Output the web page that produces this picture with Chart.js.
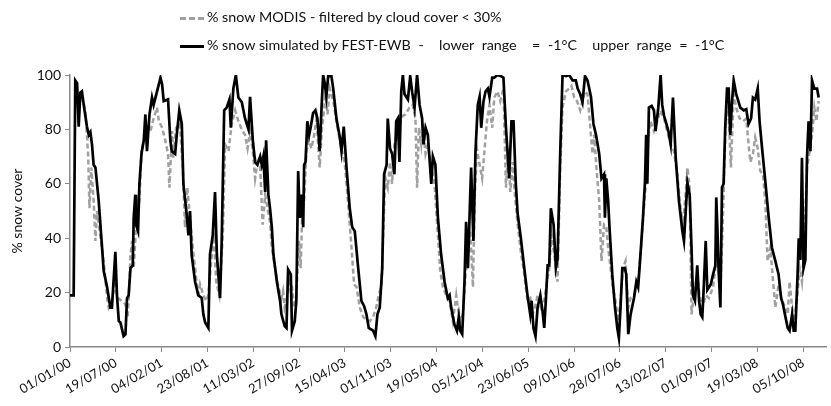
<!DOCTYPE html>
<html>
<head>
<meta charset="utf-8">
<script src="https://cdn.jsdelivr.net/npm/chart.js@4.4.1/dist/chart.umd.min.js"></script>
<style>
  body { margin: 0; background: #fff; }
  #wrap { position: relative; width: 831px; height: 406px; }
  #legend { position: absolute; left: 180px; top: 5px; font-family: Lato, sans-serif; font-size: 14.3px; color: #111; }
  .row { position: absolute; left: 0; white-space: pre; height: 20px; line-height: 20px; }
  .row .smp { display: inline-block; width: 24px; vertical-align: middle; margin-right: 3px; }
  .dash { border-top: 3px dashed #a0a0a0; }
  .solid { border-top: 3px solid #000; }
  .wide { word-spacing: 4px; }
</style>
</head>
<body>
<div id="wrap">
  <canvas id="snowChart" width="831" height="406"></canvas>
  <div id="legend">
    <div class="row" style="top:2px"><span class="smp dash"></span>% snow MODIS - filtered by cloud cover &lt; 30%</div>
    <div class="row" style="top:30px"><span class="smp solid"></span>% snow simulated by FEST-EWB<span class="wide"> -  lower range  = -1°C  upper range = -1°C</span></div>
  </div>
</div>
<script>
// DATI (giorni dal 01/01/00)
const tickLabels = ["01/01/00", "19/07/00", "04/02/01", "23/08/01", "11/03/02", "27/09/02", "15/04/03", "01/11/03", "19/05/04", "05/12/04", "23/06/05", "09/01/06", "28/07/06", "13/02/07", "01/09/07", "19/03/08", "05/10/08"];

const simDays = [0, 16, 23, 31, 38, 45, 52, 60, 74, 82, 89, 96, 103, 111, 125, 140, 147, 162, 176, 183, 198, 205, 213, 220, 234, 242, 249, 256, 264, 274, 278, 285, 288, 297, 303, 312, 322, 329, 336, 347, 358, 365, 380, 395, 402, 409, 428, 438,
  444, 459, 466, 477, 488, 495, 509, 517, 524, 531, 546, 560, 575, 582, 590, 604, 611, 623, 633, 641, 655, 662, 673, 684, 696, 702, 713, 724, 735, 750, 764, 779, 786, 798, 808, 818, 830, 837, 844, 852, 856, 866, 873, 881, 888, 903, 917,
  923, 937, 945, 952, 964, 969, 981, 988, 996, 1003, 1010, 1018, 1022, 1028, 1036, 1044, 1051, 1061, 1071, 1080, 1090, 1098, 1105, 1112, 1119, 1127, 1141, 1149, 1163, 1178, 1185, 1195, 1207, 1221, 1232, 1243, 1258, 1272, 1284, 1294, 1304, 1323, 1333, 1342, 1352, 1363, 1371, 1382,
  1387, 1397, 1406, 1416, 1424, 1431, 1438, 1446, 1453, 1460, 1475, 1485, 1494, 1504, 1515, 1526, 1537, 1543, 1552, 1562, 1569, 1577, 1584, 1595, 1606, 1620, 1635, 1649, 1657, 1664, 1678, 1689, 1697, 1703, 1712, 1722, 1729, 1737, 1747, 1751, 1761, 1770, 1780, 1788, 1795, 1805, 1814, 1824, 1831, 1843,
  1852, 1866, 1881, 1892, 1903, 1917, 1927, 1936, 1946, 1954, 1968, 1983, 1997, 2009, 2015, 2023, 2032, 2041, 2053, 2063, 2070, 2077, 2085, 2092, 2099, 2111, 2121, 2128, 2140, 2150, 2165, 2179, 2194, 2208, 2216, 2227, 2237, 2248, 2259, 2274, 2285, 2296, 2310, 2320,
  2331, 2335, 2341, 2349, 2355, 2367, 2379, 2389, 2396, 2403, 2411, 2422, 2428, 2437, 2447, 2462, 2472, 2480, 2491, 2501, 2510, 2515, 2520, 2527, 2539, 2549, 2556, 2568, 2578, 2585, 2593, 2600, 2612, 2622, 2632, 2644, 2658, 2673, 2680, 2687, 2695, 2705, 2713, 2719, 2728, 2738, 2746, 2753, 2760, 2767, 2775, 2782, 2797,
  2807, 2817, 2821, 2827, 2831, 2839, 2846, 2853, 2860, 2868, 2875, 2882, 2890, 2897, 2908, 2926, 2941, 2952, 2962, 2973, 2981, 2991, 3002, 3010, 3021, 3035, 3050, 3064, 3079, 3093, 3104, 3112, 3123, 3133, 3141, 3152, 3159, 3166, 3176, 3181, 3188, 3195, 3202, 3210, 3217, 3224, 3232, 3239, 3249, 3261, 3268];
const simValues = [19, 19, 98, 97, 81, 93.5, 94, 89, 81, 78, 79, 74.5, 67, 66, 54, 36.5, 28, 22, 14.5, 14.5, 35, 19, 9.5, 9, 4, 4.6, 18, 19, 29, 30, 47.5, 56, 45, 42.6, 60, 71, 76, 85.5, 72, 85.5, 91.7, 89, 94, 99, 96.6, 90.4, 91, 76,
  72, 71, 78, 87, 82, 60, 49, 41, 50, 34, 24, 19, 18, 12, 9, 7, 34, 41, 57, 34, 18, 38, 87, 88, 91, 80.6, 95, 100, 91.7, 90, 84, 80, 92, 76, 68, 67, 70, 67, 70, 57, 76, 56, 51, 44, 34, 24, 17,
  12, 7.7, 7, 28.5, 26.7, 6, 9.5, 17, 64.7, 47.5, 56, 44, 67, 68, 83, 78, 81, 86, 87, 84, 72, 88, 100, 97, 92, 99.6, 99.6, 95, 84, 77, 72, 81, 66, 51, 44, 42.6, 29, 17, 15, 12, 7, 6, 4, 12, 14.5, 29, 63.5, 67,
  84, 73, 71, 63.5, 83, 84, 68, 94, 100, 93, 91, 99.6, 93.5, 88, 100, 89, 84, 74.5, 80.6, 78, 69.6, 60, 70, 67, 47.5, 34, 24, 18, 19, 14.5, 8.3, 6, 11, 6, 4.7, 24, 46, 29, 56, 66, 39, 72, 89, 92, 80.6, 90.4, 94, 95, 92, 99,
  99, 100, 99.6, 99, 80.6, 62, 83, 83, 60, 49, 40, 29, 19, 12, 17, 7, 4, 14.5, 19, 13, 7, 17, 30, 30, 51, 45, 29, 32, 72, 100, 99.6, 100, 98, 98, 95, 93, 90, 99.6, 98, 92, 82, 78, 71, 62,
  63.5, 47.5, 62, 53.7, 44, 26.7, 14.5, 7, 3.4, 14.5, 29, 29, 26.7, 4.7, 12, 18, 24, 22, 35, 47.5, 61, 78, 60, 88, 88.6, 87, 79.4, 88, 100, 89, 85, 83, 79.4, 74.5, 91.7, 69.6, 53.7, 42.6, 39, 49, 60.4, 56, 36.5, 19, 17, 30, 17, 12, 11, 23, 39, 21, 23,
  26.7, 30, 55, 41, 29, 14.5, 58.6, 60, 80.6, 95, 95, 78, 90.4, 98, 93, 88, 87, 87.4, 82, 84, 91.7, 91, 95, 83, 73, 61, 47.5, 36.5, 31.6, 26.7, 18, 15.7, 11, 7, 6, 12, 6, 6, 26.7, 40, 32, 69.6, 29, 32, 69.6, 83, 72, 98, 95, 95, 91.7];

const modisDays = [38, 52, 67, 79, 85, 93, 103, 111, 118, 132, 147, 162, 169, 183, 195, 210, 224, 242, 252, 256, 264, 271, 278, 288, 303, 312, 322, 336, 351, 365, 380, 388, 402, 416, 428, 434, 446,
  451, 463, 480, 492, 502, 512, 524, 539, 553, 560, 568, 582, 594, 604, 619, 629, 638, 652, 667, 677, 692, 706, 721, 735, 750, 764, 775, 786, 798, 808, 818, 830, 841, 852, 862, 873, 881, 895, 910,
  923, 930, 937, 949, 959, 969, 978, 988, 999, 1007, 1013, 1022, 1032, 1042, 1054, 1066, 1076, 1090, 1100, 1109, 1115, 1124, 1134, 1149, 1163, 1178, 1188, 1200, 1211, 1221, 1229, 1240, 1251, 1265, 1280, 1294, 1309, 1323, 1338, 1345, 1360, 1371, 1377,
  1387, 1397, 1406, 1416, 1431, 1446, 1453, 1464, 1482, 1496, 1508, 1515, 1523, 1533, 1540, 1552, 1562, 1577, 1591, 1606, 1616, 1628, 1642, 1657, 1671, 1686, 1693, 1703, 1715, 1727, 1737, 1747, 1759, 1766, 1776, 1788, 1799, 1810, 1820, 1831, 1843,
  1852, 1866, 1878, 1892, 1903, 1913, 1922, 1932, 1942, 1954, 1968, 1983, 1997, 2009, 2019, 2029, 2041, 2055, 2070, 2082, 2092, 2102, 2114, 2128, 2140, 2150, 2165, 2179, 2189, 2201, 2213, 2227, 2237, 2248, 2259, 2271, 2281, 2288, 2300, 2310, 2320,
  2331, 2341, 2349, 2360, 2370, 2381, 2393, 2403, 2414, 2425, 2437, 2447, 2462, 2472, 2483, 2495, 2505, 2515, 2524, 2534, 2549, 2563, 2578, 2593, 2607, 2622, 2636, 2651, 2665, 2676, 2687, 2695, 2705, 2713, 2724, 2738, 2748, 2760, 2775, 2789,
  2807, 2817, 2827, 2839, 2850, 2856, 2865, 2875, 2885, 2897, 2908, 2923, 2938, 2952, 2962, 2970, 2981, 2991, 3002, 3013, 3025, 3035, 3045, 3057, 3069, 3079, 3093, 3108, 3123, 3133, 3141, 3152, 3162, 3173, 3185, 3195, 3205, 3217, 3229, 3239, 3249, 3258, 3268];
const modisValues = [89, 92, 87, 71, 51, 66, 54, 39, 50, 41, 31.6, 18, 14.5, 17, 23, 18, 17, 15.7, 11, 17, 34, 39, 29, 44, 54, 72, 76, 82, 79.4, 84, 88, 83, 80.6, 76, 71, 58.6, 79.4,
  69.6, 80.6, 82, 66, 44, 58.6, 47.5, 34, 24, 18, 23, 19, 17, 19, 34, 39, 24, 19, 41, 74.5, 72, 82, 87, 83, 80, 78, 73, 79.4, 72, 62, 68, 66, 45, 56, 51, 46, 36.5, 29, 22,
  18, 20.6, 14.5, 19, 24, 22, 14.5, 19, 39, 29, 47.5, 53.7, 72, 76, 73, 78, 84, 66, 80.6, 87, 94, 85.5, 95, 90.4, 83, 76, 72, 67, 56, 45, 36.5, 23, 22, 14.5, 11, 10, 9.5, 11, 15, 18, 23, 51, 62,
  58.6, 68, 60, 74.5, 78, 84, 85, 85.5, 88, 89, 84, 58.6, 80.6, 74.5, 82, 71, 74.5, 66, 60, 41, 28, 22, 19, 17, 9.5, 19, 14.5, 9.5, 12, 26.7, 34, 42.6, 22, 53.7, 73, 67, 62, 73, 83, 89, 80.6,
  91.7, 94, 90.4, 95, 58.6, 73, 57, 68, 56, 45, 35, 26.7, 17, 18, 12, 14.5, 19, 14.5, 17, 24, 29, 41, 34, 24, 66, 88, 94, 95, 96, 91.7, 90.4, 87, 90.4, 94, 93, 80.6, 71, 78, 63.5, 53.7, 31.6,
  45, 44, 36.5, 29, 22, 17, 9.5, 17, 29, 31.6, 14.5, 18, 19, 22, 26.7, 39, 51, 61, 77, 83, 79.4, 83, 87, 84, 79.4, 74.5, 72, 63.5, 51, 45, 56, 66, 58.6, 12, 19, 26.7, 19, 14.5, 19, 18,
  22, 29, 34, 20.6, 47.5, 66, 88, 85.5, 66, 93, 88, 84, 83, 84, 74.5, 68, 71, 77, 73, 64.7, 63.5, 53.7, 31.6, 36.5, 24, 14.5, 23, 17, 14.5, 12, 24, 14.5, 9.5, 17, 29, 24, 36.5, 66, 72, 78, 88, 83, 90.4];

const simData = simDays.map((d, i) => ({ x: d, y: simValues[i] }));
const modisData = modisDays.map((d, i) => ({ x: d, y: modisValues[i] }));

const ctx = document.getElementById("snowChart").getContext("2d");
new Chart(ctx, {
  type: "line",
  data: {
    datasets: [
      {
        label: "% snow MODIS - filtered by cloud cover < 30%",
        data: modisData,
        borderColor: "#a0a0a0",
        borderWidth: 2.5,
        borderDash: [5, 3],
        pointRadius: 0,
        tension: 0,
        order: 2,
      },
      {
        label: "% snow simulated by FEST-EWB",
        data: simData,
        borderColor: "#000",
        borderWidth: 2.7,
        pointRadius: 0,
        tension: 0,
        order: 1,
      },
    ],
  },
  options: {
    responsive: false,
    animation: false,
    layout: { padding: { left: 0, right: 5, top: 75, bottom: 0 } },
    plugins: { legend: { display: false }, tooltip: { enabled: false } },
    scales: {
      x: {
        type: "linear",
        min: 0,
        max: 3300,
        grid: { drawOnChartArea: false, tickLength: 5, color: "#888" },
        border: { color: "#888", width: 1.5 },
        ticks: {
          stepSize: 200,
          includeBounds: false,
          autoSkip: false,
          minRotation: 30,
          maxRotation: 30,
          color: "#111",
          font: { family: "Lato", size: 13 },
          callback: (v) => tickLabels[v / 200],
        },
        afterFit: (s) => { s.height = 59; },
      },
      y: {
        min: 0,
        max: 100,
        grid: { drawOnChartArea: false, tickLength: 5, color: "#888" },
        border: { color: "#888", width: 1.5 },
        ticks: { stepSize: 20, padding: 4, color: "#111", font: { family: "Lato", size: 14 } },
        title: { display: true, text: "% snow cover", color: "#111", font: { family: "Lato", size: 14 }, padding: { top: 9 } },
        afterFit: (s) => { s.width = 70; },
      },
    },
  },
});
</script>
</body>
</html>
